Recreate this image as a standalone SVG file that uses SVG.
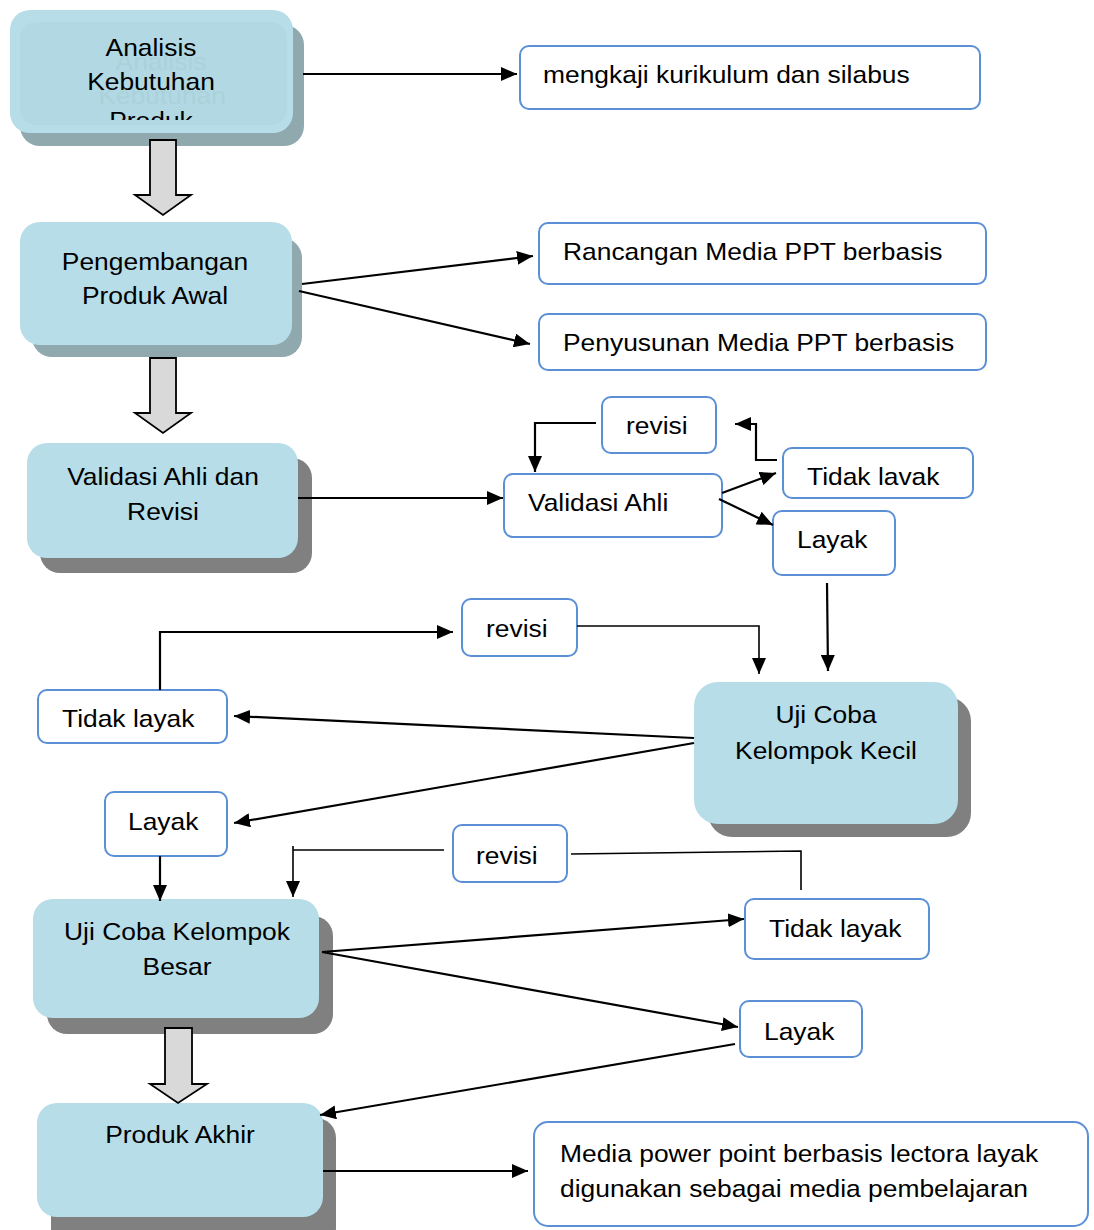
<svg xmlns="http://www.w3.org/2000/svg" width="1094" height="1230" viewBox="0 0 1094 1230">
<style>
text{font-family:"Liberation Sans",Arial,sans-serif;font-size:24px;fill:#000}
.c{text-anchor:middle}
.node{fill:#b7dde8}
.shb{fill:#8fa9ae}
.shg{fill:#808080}
.box{fill:#fff;stroke:#5b8fd6;stroke-width:2}
.ln{fill:none;stroke:#000;stroke-width:2.2}
.lt{fill:none;stroke:#000;stroke-width:1.6}
.blk{fill:#d9d9d9;stroke:#000;stroke-width:1.8;stroke-linejoin:miter}
.ghost{fill:#a6ced9;opacity:0.6}
</style>
<defs>
<marker id="ah" markerUnits="userSpaceOnUse" markerWidth="16" markerHeight="14" refX="16" refY="7" orient="auto">
<path d="M0,0 L16,7 L0,14 z" fill="#000"/>
</marker>
<clipPath id="clip1"><rect x="0" y="0" width="320" height="120"/></clipPath>
</defs>

<g id="analisis-kebutuhan">
<rect class="shb" x="20" y="25" width="284" height="121" rx="20"/>
<rect class="node" x="10" y="10" width="283" height="123" rx="20"/>
<rect x="20" y="22" width="267" height="103" rx="16" fill="#b2d9e3"/>
<text class="c ghost" transform="translate(161 70) scale(1.1 1)">Analisis</text>
<text class="c ghost" transform="translate(162 104) scale(1.1 1)">Kebutuhan</text>
<g clip-path="url(#clip1)">
<text class="c" transform="translate(151 56) scale(1.1 1)">Analisis</text>
<text class="c" transform="translate(151 90) scale(1.1 1)">Kebutuhan</text>
<text class="c" transform="translate(151 129) scale(1.1 1)">Produk</text>
</g>
</g>

<g id="pengembangan">
<rect class="shb" x="32" y="238" width="270" height="119" rx="20"/>
<rect class="node" x="20" y="222" width="272" height="123" rx="20"/>
<text class="c" transform="translate(155 270) scale(1.1 1)">Pengembangan</text>
<text class="c" transform="translate(155 304) scale(1.1 1)">Produk Awal</text>
</g>

<g id="validasi-revisi">
<rect class="shg" x="40" y="458" width="272" height="115" rx="20"/>
<rect class="node" x="27" y="443" width="271" height="115" rx="20"/>
<text class="c" transform="translate(163 485) scale(1.1 1)">Validasi Ahli dan</text>
<text class="c" transform="translate(163 520) scale(1.1 1)">Revisi</text>
</g>

<g id="uji-kecil">
<rect class="shg" x="708" y="697" width="263" height="140" rx="24"/>
<rect class="node" x="694" y="682" width="264" height="142" rx="24"/>
<text class="c" transform="translate(826 723) scale(1.1 1)">Uji Coba</text>
<text class="c" transform="translate(826 759) scale(1.1 1)">Kelompok Kecil</text>
</g>

<g id="uji-besar">
<rect class="shg" x="47" y="916" width="286" height="118" rx="20"/>
<rect class="node" x="33" y="899" width="286" height="119" rx="20"/>
<text class="c" transform="translate(177 940) scale(1.1 1)">Uji Coba Kelompok</text>
<text class="c" transform="translate(177 975) scale(1.1 1)">Besar</text>
</g>

<g id="produk-akhir">
<rect class="shg" x="51" y="1118" width="285" height="130" rx="20"/>
<rect class="node" x="37" y="1103" width="286" height="114" rx="20"/>
<text class="c" transform="translate(180 1143) scale(1.1 1)">Produk Akhir</text>
</g>

<g id="mengkaji">
<rect class="box" x="520" y="46" width="460" height="63" rx="9"/>
<text transform="translate(543 83) scale(1.1 1)">mengkaji kurikulum dan silabus</text>
</g>
<g id="rancangan">
<rect class="box" x="539" y="223" width="447" height="61" rx="9"/>
<text transform="translate(563 260) scale(1.1 1)">Rancangan Media PPT berbasis</text>
</g>
<g id="penyusunan">
<rect class="box" x="539" y="314" width="447" height="56" rx="9"/>
<text transform="translate(563 351) scale(1.1 1)">Penyusunan Media PPT berbasis</text>
</g>
<g id="revisi-1">
<rect class="box" x="602" y="397" width="114" height="56" rx="9"/>
<text transform="translate(626 434) scale(1.1 1)">revisi</text>
</g>
<g id="validasi-ahli">
<rect class="box" x="504" y="474" width="218" height="63" rx="9"/>
<text transform="translate(528 511) scale(1.1 1)">Validasi Ahli</text>
</g>
<g id="tidak-layak-1">
<rect class="box" x="783" y="448" width="190" height="50" rx="9"/>
<text transform="translate(807 485) scale(1.1 1)">Tidak lavak</text>
</g>
<g id="layak-1">
<rect class="box" x="773" y="511" width="122" height="64" rx="9"/>
<text transform="translate(797 548) scale(1.1 1)">Layak</text>
</g>
<g id="revisi-2">
<rect class="box" x="462" y="599" width="115" height="57" rx="9"/>
<text transform="translate(486 637) scale(1.1 1)">revisi</text>
</g>
<g id="tidak-layak-2">
<rect class="box" x="38" y="690" width="189" height="53" rx="9"/>
<text transform="translate(62 727) scale(1.1 1)">Tidak layak</text>
</g>
<g id="layak-2">
<rect class="box" x="105" y="792" width="122" height="64" rx="9"/>
<text transform="translate(128 830) scale(1.1 1)">Layak</text>
</g>
<g id="revisi-3">
<rect class="box" x="453" y="825" width="114" height="57" rx="9"/>
<text transform="translate(476 864) scale(1.1 1)">revisi</text>
</g>
<g id="tidak-layak-3">
<rect class="box" x="745" y="899" width="184" height="60" rx="9"/>
<text transform="translate(769 937) scale(1.1 1)">Tidak layak</text>
</g>
<g id="layak-3">
<rect class="box" x="740" y="1001" width="122" height="56" rx="9"/>
<text transform="translate(764 1040) scale(1.1 1)">Layak</text>
</g>
<g id="media-akhir">
<rect class="box" x="534" y="1122" width="554" height="104" rx="14"/>
<text transform="translate(560 1162) scale(1.1 1)">Media power point berbasis lectora layak</text>
<text transform="translate(560 1197) scale(1.1 1)">digunakan sebagai media pembelajaran</text>
</g>

<g id="connectors">
<path class="blk" d="M150,140 H176 V195 H191 L163,215 L135,195 H150 Z"/>
<path class="blk" d="M150,358 H176 V413 H191 L163,433 L135,413 H150 Z"/>
<path class="blk" d="M165,1028 H192 V1084 H207 L178,1103 L150,1084 H165 Z"/>
<path class="ln" d="M303,74 H517" marker-end="url(#ah)"/>
<path class="ln" d="M302,284 L533,256" marker-end="url(#ah)"/>
<path class="ln" d="M299,291 L530,344" marker-end="url(#ah)"/>
<path class="ln" d="M298,498 H503" marker-end="url(#ah)"/>
<path class="ln" d="M596,423 H535 V472" marker-end="url(#ah)"/>
<path class="ln" d="M777,460 H756 V424 H735" marker-end="url(#ah)"/>
<path class="ln" d="M722,493 L776,473" marker-end="url(#ah)"/>
<path class="ln" d="M719,499 L773,525" marker-end="url(#ah)"/>
<path class="ln" d="M827,583 L828,671" marker-end="url(#ah)"/>
<path class="lt" d="M577,626 H759 V674" marker-end="url(#ah)"/>
<path class="ln" d="M160,690 V632 H453" marker-end="url(#ah)"/>
<path class="ln" d="M694,738 L234,716" marker-end="url(#ah)"/>
<path class="ln" d="M694,743 L234,823" marker-end="url(#ah)"/>
<path class="ln" d="M160,856 V901" marker-end="url(#ah)"/>
<path class="lt" d="M444,850 H293 V846 M293,849 V897" marker-end="url(#ah)"/>
<path class="lt" d="M801,890 V851 L571,854"/>
<path class="ln" d="M322,952 L744,919" marker-end="url(#ah)"/>
<path class="ln" d="M322,952 L738,1027" marker-end="url(#ah)"/>
<path class="ln" d="M735,1044 L320,1115" marker-end="url(#ah)"/>
<path class="ln" d="M323,1171 H528" marker-end="url(#ah)"/>
</g>
</svg>
